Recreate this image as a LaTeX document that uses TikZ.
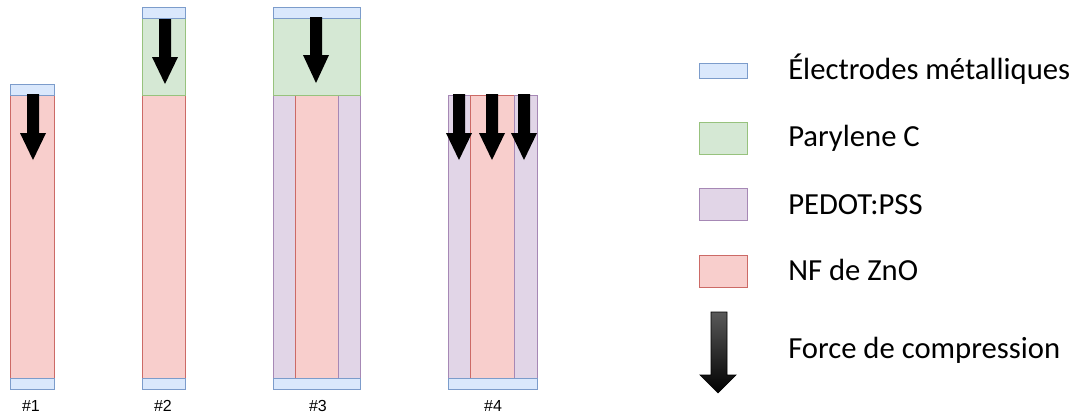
\documentclass[tikz,border=0pt]{standalone}
\usepackage{fontspec}
\setmainfont{Carlito}
\newfontfamily\numfont{Liberation Sans}

\definecolor{elecfill}{HTML}{DAE8FC}
\definecolor{elecline}{HTML}{7C9CCB}
\definecolor{paryfill}{HTML}{D5E8D4}
\definecolor{paryline}{HTML}{97C27D}
\definecolor{pedotfill}{HTML}{E1D5E7}
\definecolor{pedotline}{HTML}{A688B5}
\definecolor{znofill}{HTML}{F8CECC}
\definecolor{znoline}{HTML}{CC6A66}

\tikzset{
  electrode/.style={draw=elecline, fill=elecfill, line width=0.75pt},
  parylene/.style={draw=paryline, fill=paryfill, line width=0.75pt},
  pedot/.style={draw=pedotline, fill=pedotfill, line width=0.75pt},
  nfzno/.style={draw=znoline, fill=znofill, line width=0.75pt},
  legendtext/.style={anchor=west, font=\fontsize{23}{26}\selectfont, inner sep=0pt},
  colnum/.style={font=\numfont\fontsize{12}{14}\selectfont, inner sep=0pt}
}

\begin{document}
\begin{tikzpicture}[x=0.75pt,y=-0.75pt]
\useasboundingbox (0,0) rectangle (1083,414);

% #1
\draw[nfzno] (10,95) rectangle (54,378);
\draw[electrode] (10,84) rectangle (54,95);
\draw[electrode] (10,378) rectangle (54,389);

% #2
\draw[nfzno] (142,95) rectangle (185,378);
\draw[parylene] (142,18) rectangle (185,95);
\draw[electrode] (142,7) rectangle (185,18);
\draw[electrode] (142,378) rectangle (185,389);

% #3
\draw[pedot] (273,95) rectangle (295,378);
\draw[nfzno] (295,95) rectangle (338,378);
\draw[pedot] (338,95) rectangle (360,378);
\draw[parylene] (273,18) rectangle (360,95);
\draw[electrode] (273,7) rectangle (360,18);
\draw[electrode] (273,378) rectangle (360,389);

% #4
\draw[pedot] (448,95) rectangle (470,378);
\draw[nfzno] (470,95) rectangle (514,378);
\draw[pedot] (514,95) rectangle (537,378);
\draw[electrode] (448,378) rectangle (537,389);

% forces
\foreach \x/\t/\h/\b in {33/94/133/160, 165/19/57/84, 316/17/55/83,
                         459/94/133/160, 492/94/133/160, 524/94/133/160}
  \fill[black] (\x-6,\t) -- (\x+6,\t) -- (\x+6,\h) -- (\x+13,\h) -- (\x,\b)
    -- (\x-13,\h) -- (\x-6,\h) -- cycle;

\node[colnum] (num1) at (31,406) {\#1};
\node[colnum] (num2) at (163,406) {\#2};
\node[colnum] (num3) at (318,406) {\#3};
\node[colnum] (num4) at (493,406) {\#4};

% legend
\draw[electrode] (699,63) rectangle (747,78);
\draw[parylene] (699,122) rectangle (747,154);
\draw[pedot] (699,188) rectangle (747,220);
\draw[nfzno] (699,255) rectangle (747,287);
\shade[top color=black!65, bottom color=black, draw=black, line width=0.5pt]
  (711,312) -- (727,312) -- (727,375) -- (736,375) -- (718,393)
  -- (700,375) -- (711,375) -- cycle;

\node[legendtext] (lelec) at (788,69) {Électrodes métalliques};
\node[legendtext] (lpary) at (788,138) {Parylene C};
\node[legendtext] (lpedot) at (788,205) {PEDOT:PSS};
\node[legendtext] (lzno) at (788,270) {NF de ZnO};
\node[legendtext] (lforce) at (788,350) {Force de compression};
\end{tikzpicture}
\end{document}
